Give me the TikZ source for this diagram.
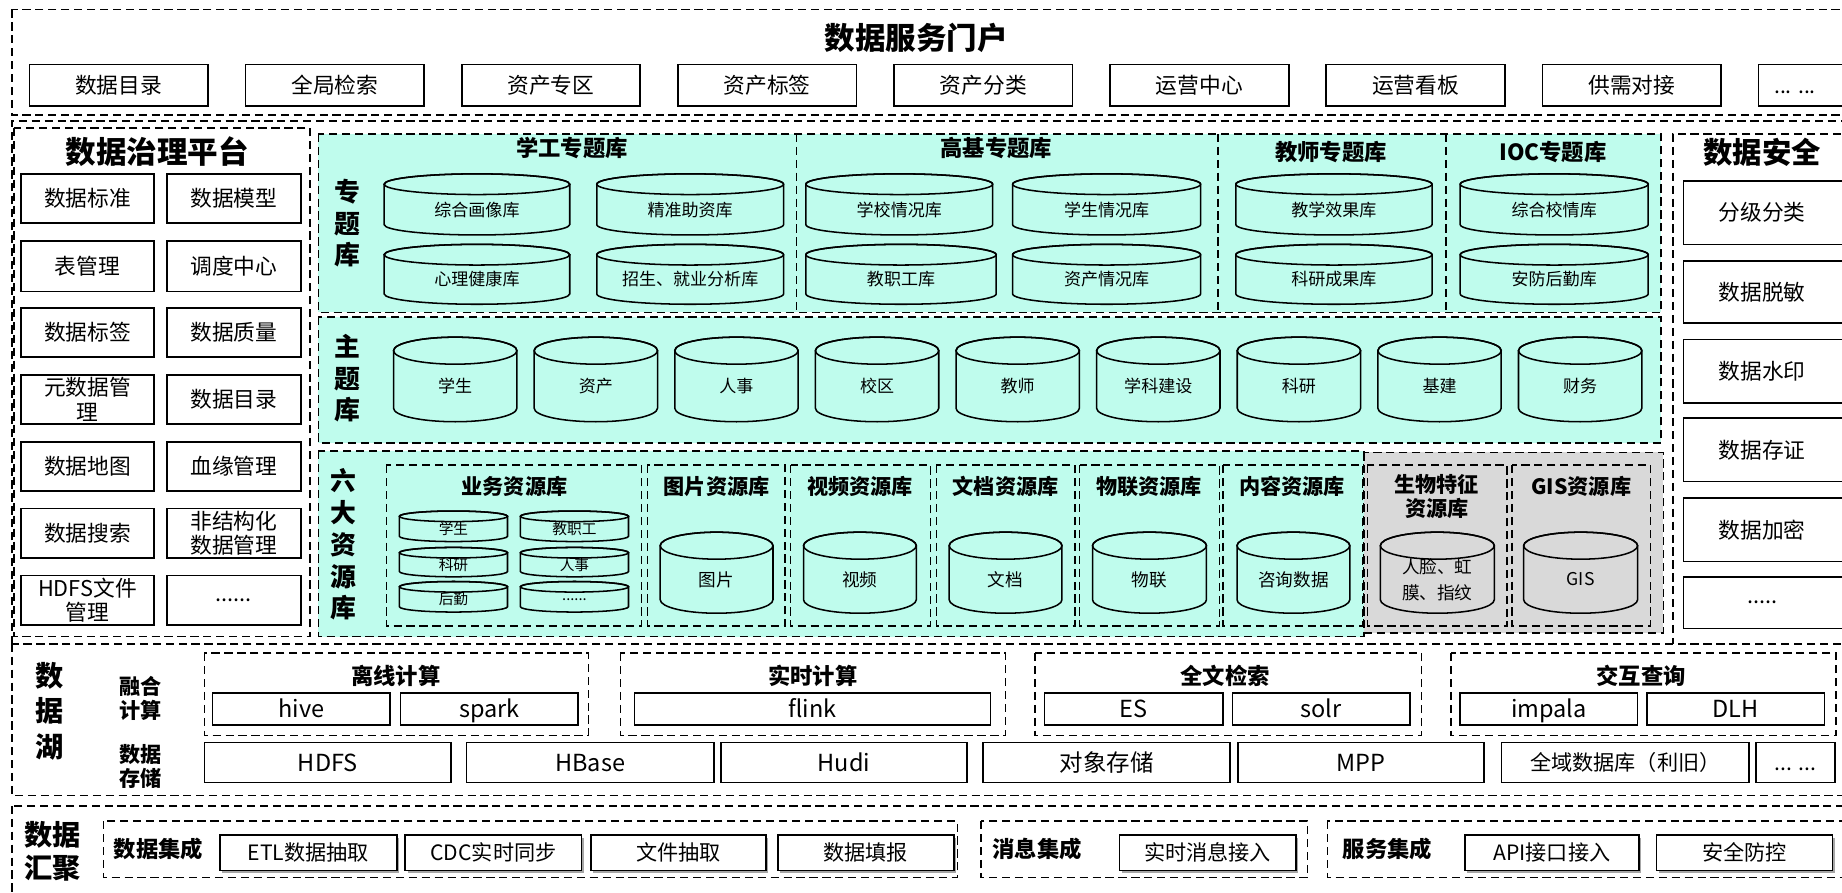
\documentclass[tikz,border=0pt]{standalone}
\usepackage{fontspec}
\setmainfont{Noto Sans CJK SC}
\definecolor{mint}{RGB}{191,252,237}
\definecolor{lgray}{RGB}{217,217,217}
\tikzset{
  dbox/.style={draw=black,line width=1.3pt,dash pattern=on 7pt off 4pt},
  sline/.style={draw=black,line width=1.4pt,fill=white},
  txt/.style={align=center,inner sep=0pt,font=\fontsize{18.5}{21}\selectfont},
  lakef/.style={font=\fontsize{20}{22}\selectfont,text height=16.4pt,text depth=1.6pt},
  smallf/.style={font=\fontsize{18}{20}\selectfont,text height=14.8pt,text depth=1.4pt},
  ttl/.style={align=center,inner sep=0pt,font=\fontsize{26}{30}\selectfont\bfseries},
  sub/.style={align=center,inner sep=0pt,font=\fontsize{19}{21}\selectfont\bfseries},
  subs/.style={align=center,inner sep=0pt,font=\fontsize{18}{21}\selectfont\bfseries},
  vlab/.style={align=center,inner sep=0pt,font=\fontsize{22}{27}\selectfont\bfseries},
  cylbody/.style={draw=black,line width=1.3pt,fill=mint},
  cylline/.style={draw=black,line width=1.3pt},
  cyltext/.style={align=center,inner sep=0pt,font=\fontsize{14.5}{17}\selectfont},
}
\newcommand\rbox[7][]{%
  \draw[sline] (#3,#4) rectangle (#5,#6);
  \node[txt,#1] (#2) at ({(#3+#5)/2},{(#4+#6)/2}) {#7};}
\newcommand\shbox[7][]{%
  \fill[black!35] ({#3+2},{#4+2}) rectangle ({#5+2},{#6+2});
  \draw[sline] (#3,#4) rectangle (#5,#6);
  \node[txt,#1] (#2) at ({(#3+#5)/2},{(#4+#6)/2}) {#7};}
\newcommand\dbcyl[7]{%
  \pgfmathsetmacro\cyx{(#2+#4)/2}%
  \pgfmathsetmacro\cyr{(#4-#2)/2}%
  \pgfmathsetmacro\cyt{#3+#6}%
  \pgfmathsetmacro\cyb{#5-#6}%
  \pgfmathsetmacro\cym{(#3+#6+#5)/2}%
  \path[cylbody] (#2,\cyt) -- (#2,\cyb) arc[start angle=180,end angle=360,x radius=\cyr pt,y radius=#6pt] -- (#4,\cyt) arc[start angle=0,end angle=180,x radius=\cyr pt,y radius=#6pt] -- cycle;
  \draw[cylline] (\cyx,\cyt) ellipse[x radius=\cyr pt,y radius=#6pt];
  \node[cyltext] (#1) at (\cyx,\cym) {#7};}
\begin{document}
\begin{tikzpicture}[x=1pt,y=-1pt]
\clip (0,0) rectangle (1568,760);
\fill[white] (0,0) rectangle (1568,760);

% ---------- portal ----------
\draw[dbox] (10,8) rectangle (1600,98);
\node[ttl] (portal) at (780,32) {数据服务门户};
\foreach \t [count=\i from 0] in {数据目录,全局检索,资产专区,资产标签,资产分类,运营中心,运营看板,供需对接}{
  \pgfmathsetmacro\xa{25+184*\i}
  \rbox{p\i}{\xa}{55}{\xa+152}{90}{\t}
}
\draw[sline] (1497,55) rectangle (1580,90);
\node[txt,smallf] (p8) at (1528,72.5) {... ...};

% ---------- middle container ----------
\draw[dbox] (10,548) -- (10,103) -- (1600,103);

% ---------- governance ----------
\draw[dbox] (12,109) rectangle (264,542);
\node[ttl] (gov) at (134,129) {数据治理平台};
\rbox{g1}{18}{148}{131}{190}{数据标准}
\rbox{g2}{142}{148}{256}{190}{数据模型}
\rbox{g3}{18}{205}{131}{248}{表管理}
\rbox{g4}{142}{205}{256}{248}{调度中心}
\rbox{g5}{18}{262}{131}{304}{数据标签}
\rbox{g6}{142}{262}{256}{304}{数据质量}
\rbox{g7}{18}{319}{131}{361}{元数据管\\理}
\rbox{g8}{142}{319}{256}{361}{数据目录}
\rbox{g9}{18}{376}{131}{418}{数据地图}
\rbox{g10}{142}{376}{256}{418}{血缘管理}
\rbox{g11}{18}{433}{131}{475}{数据搜索}
\rbox{g12}{142}{433}{256}{475}{非结构化\\数据管理}
\rbox{g13}{18}{490}{131}{532}{HDFS文件\\管理}
\rbox{g14}{142}{490}{256}{532}{......}

% ---------- security ----------
\draw[dbox] (1600,114) -- (1424,114) -- (1424,548);
\node[ttl,font=\fontsize{25}{30}\selectfont\bfseries] (sec) at (1500,130) {数据安全};
\draw[sline] (1433,154) rectangle (1590,208); \node[txt] (s1) at (1500,181) {分级分类};
\draw[sline] (1433,222) rectangle (1590,275); \node[txt] (s2) at (1500,248.5) {数据脱敏};
\draw[sline] (1433,289) rectangle (1590,343); \node[txt] (s3) at (1500,316) {数据水印};
\draw[sline] (1433,356) rectangle (1590,410); \node[txt] (s4) at (1500,383) {数据存证};
\draw[sline] (1433,424) rectangle (1590,478); \node[txt] (s5) at (1500,451) {数据加密};
\draw[sline] (1433,491) rectangle (1590,535); \node[txt] (s6) at (1500,513) {.....};

% ---------- band 1 ----------
\draw[dbox,fill=mint] (271,114) rectangle (1414,266);
\draw[dbox] (678,114) -- (678,266);
\draw[dbox] (1037,114) -- (1037,266);
\draw[dbox] (1231,114) -- (1231,266);
\node[vlab] (lab1) at (296,190) {专\\题\\库};
\node[sub] (t1) at (487,126) {学工专题库};
\node[sub] (t2) at (848,126) {高基专题库};
\node[sub] (t3) at (1133,129) {教师专题库};
\node[sub] (t4) at (1322,129) {IOC专题库};
\dbcyl{c11}{327}{148}{485}{200}{8.8}{综合画像库}
\dbcyl{c12}{508}{148}{667}{200}{8.8}{精准助资库}
\dbcyl{c13}{327}{208}{485}{259}{8.8}{心理健康库}
\dbcyl{c14}{508}{208}{667}{259}{8.8}{招生、就业分析库}
\dbcyl{c21}{686}{148}{845}{200}{8.8}{学校情况库}
\dbcyl{c22}{862}{148}{1022}{200}{8.8}{学生情况库}
\dbcyl{c23}{686}{208}{848}{259}{8.8}{教职工库}
\dbcyl{c24}{862}{208}{1022}{259}{8.8}{资产情况库}
\dbcyl{c31}{1052}{148}{1219}{200}{8.8}{教学效果库}
\dbcyl{c32}{1052}{208}{1219}{259}{8.8}{科研成果库}
\dbcyl{c41}{1243}{148}{1403}{200}{8.8}{综合校情库}
\dbcyl{c42}{1243}{208}{1403}{259}{8.8}{安防后勤库}

% ---------- band 2 ----------
\draw[dbox,fill=mint] (271,270) rectangle (1414,377);
\node[vlab] (lab2) at (296,322) {主\\题\\库};
\foreach \t [count=\i from 0] in {学生,资产,人事,校区,教师,学科建设,科研,基建,财务}{
  \pgfmathsetmacro\xa{335+119.7*\i}
  \pgfmathsetmacro\xb{\xa+105}
  \dbcyl{m\i}{\xa}{287}{\xb}{359}{11.5}{\t}
}

% ---------- band 3 ----------
\draw[dbox,fill=mint] (271,384) rectangle (1161,542);
\draw[dbox,fill=lgray] (1161,385) rectangle (1416,539);
\node[vlab] (lab3) at (292,463.5) {六\\大\\资\\源\\库};
\draw[dbox] (329,396) rectangle (546,533);
\draw[dbox] (551,396) rectangle (668,533);
\draw[dbox] (673,396) rectangle (792,533);
\draw[dbox] (797,396) rectangle (915,533);
\draw[dbox] (919,396) rectangle (1038,533);
\draw[dbox] (1041,396) rectangle (1160,533);
\draw[dbox] (1164,396) rectangle (1283,533);
\draw[dbox] (1287,396) rectangle (1405,533);
\node[subs] (r1) at (438,414) {业务资源库};
\node[subs] (r2) at (610,414) {图片资源库};
\node[subs] (r3) at (732,414) {视频资源库};
\node[subs] (r4) at (856,414) {文档资源库};
\node[subs] (r5) at (978,414) {物联资源库};
\node[subs] (r6) at (1100,414) {内容资源库};
\node[subs] (r7) at (1223,422.5) {生物特征\\资源库};
\node[subs] (r8) at (1346,414) {GIS资源库};
\begin{scope}[cyltext/.style={align=center,inner sep=0pt,font=\fontsize{12.5}{14}\selectfont}]
\dbcyl{b1}{340}{435}{432}{461}{4.5}{学生}
\dbcyl{b2}{443}{435}{535}{461}{4.5}{教职工}
\dbcyl{b3}{340}{466}{432}{491}{4.5}{科研}
\dbcyl{b4}{443}{466}{535}{491}{4.5}{人事}
\dbcyl{b5}{340}{495}{432}{521}{4.5}{后勤}
\dbcyl{b6}{443}{495}{535}{521}{4.5}{......}
\end{scope}
\begin{scope}[cyltext/.style={align=center,inner sep=0pt,font=\fontsize{15}{22}\selectfont}]
\dbcyl{k1}{562}{453}{658}{522}{11.5}{图片}
\dbcyl{k2}{684}{453}{780}{522}{11.5}{视频}
\dbcyl{k3}{808}{453}{904}{522}{11.5}{文档}
\dbcyl{k4}{930}{453}{1027}{522}{11.5}{物联}
\dbcyl{k5}{1053}{453}{1149}{522}{11.5}{咨询数据}
\end{scope}
\begin{scope}[cylbody/.append style={fill=lgray},cyltext/.style={align=center,inner sep=0pt,font=\fontsize{15}{22}\selectfont}]
\dbcyl{k6}{1175}{453}{1272}{522}{11.5}{人脸、虹\\膜、指纹}
\dbcyl{k7}{1297}{453}{1394}{522}{11.5}{GIS}
\end{scope}

% ---------- data lake ----------
\draw[dbox] (10,548) rectangle (1600,677);
\node[vlab,font=\fontsize{24}{30.5}\selectfont\bfseries] (lake) at (42,605.5) {数\\据\\湖};
\node[vlab,font=\fontsize{18}{20}\selectfont\bfseries] (fuse) at (120,594.5) {融合\\计算};
\node[vlab,font=\fontsize{18}{20}\selectfont\bfseries] (store) at (120,652.5) {数据\\存储};
\draw[dbox] (174,556) rectangle (501,626);
\node[sub] (off) at (337,575) {离线计算};
\rbox[lakef]{hive}{181}{590}{332}{617}{hive}
\rbox[lakef]{spark}{341}{590}{492}{617}{spark}
\draw[dbox] (528,556) rectangle (856,626);
\node[sub] (rt) at (692,575) {实时计算};
\rbox[lakef]{flink}{540}{590}{843}{617}{flink}
\draw[dbox] (881,556) rectangle (1210,626);
\node[sub] (ft) at (1043,575) {全文检索};
\rbox[lakef]{es}{889}{590}{1041}{617}{ES}
\rbox[lakef]{solr}{1049}{590}{1200}{617}{solr}
\draw[dbox] (1235,556) rectangle (1563,626);
\node[sub] (iq) at (1397,575) {交互查询};
\rbox[lakef]{impala}{1243}{590}{1394}{617}{impala}
\rbox[lakef]{dlh}{1402}{590}{1553}{617}{DLH}
\rbox[lakef]{hdfs}{174}{632}{384}{666}{HDFS}
\rbox[lakef]{hbase}{397}{632}{608}{666}{HBase}
\rbox[lakef]{hudi}{614}{632}{823}{666}{Hudi}
\rbox[lakef]{obj}{837}{632}{1047}{666}{对象存储}
\rbox[lakef]{mpp}{1054}{632}{1263}{666}{MPP}
\rbox[smallf]{gdb}{1278}{632}{1489}{666}{全域数据库（利旧）}
\rbox[smallf]{more}{1495}{632}{1562}{666}{... ...}

% ---------- aggregation ----------
\draw[dbox] (10,686) rectangle (1600,800);
\node[vlab,font=\fontsize{24}{28}\selectfont\bfseries] (agg) at (45,725) {数据\\汇聚};
\draw[dbox] (88,699) rectangle (815,747);
\node[sub] (di) at (135,723) {数据集成};
\shbox[smallf]{a1}{187}{711}{338}{741}{ETL数据抽取}
\shbox[smallf]{a2}{345}{711}{495}{741}{CDC实时同步}
\shbox[smallf]{a3}{503}{711}{652}{741}{文件抽取}
\shbox[smallf]{a4}{662}{711}{812}{741}{数据填报}
\draw[dbox] (835,699) rectangle (1113,747);
\node[sub] (mi) at (883,723) {消息集成};
\shbox[smallf]{a5}{953}{711}{1103}{741}{实时消息接入}
\draw[dbox] (1130,699) rectangle (1600,747);
\node[sub] (si) at (1181,723) {服务集成};
\shbox[smallf]{a6}{1247}{711}{1395}{741}{API接口接入}
\shbox[smallf]{a7}{1410}{711}{1560}{741}{安全防控}
\end{tikzpicture}
\end{document}
